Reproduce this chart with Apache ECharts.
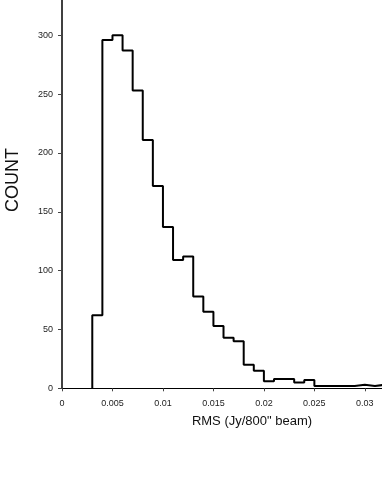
<!DOCTYPE html>
<html>
<head>
<meta charset="utf-8">
<script src="https://cdn.jsdelivr.net/npm/echarts@6/dist/echarts.min.js"></script>
<style>
  html, body { margin: 0; padding: 0; background: #fff; }
  #chart { width: 382px; height: 494px; }
</style>
</head>
<body>
<div id="chart"></div>
<script>
// bin left edges (Jy/800" beam), bin width 0.001
var binEdges = [0.003, 0.004, 0.005, 0.006, 0.007, 0.008, 0.009, 0.010, 0.011, 0.012,
  0.013, 0.014, 0.015, 0.016, 0.017, 0.018, 0.019, 0.020, 0.021, 0.022,
  0.023, 0.024, 0.025, 0.026, 0.027, 0.028, 0.029, 0.030, 0.031, 0.032];
var counts = [62, 296, 300, 287, 253, 211, 172, 137, 109, 112,
  78, 65, 53, 43, 40, 20, 15, 6, 8, 8,
  5, 7, 2, 2, 2, 2, 3, 2, 3, 3];
var xTicks = [0, 0.005, 0.01, 0.015, 0.02, 0.025, 0.03];
var yTicks = [0, 50, 100, 150, 200, 250, 300];

var chart = echarts.init(document.getElementById('chart'), null, { renderer: 'canvas' });

// step outline of the histogram
var steps = [[binEdges[0], 0]];
for (var i = 0; i < binEdges.length; i++) {
  steps.push([binEdges[i], counts[i]]);
}
steps.push([binEdges[binEdges.length - 1] + 0.001, counts[counts.length - 1]]);

var font = 'Liberation Sans, Arial, sans-serif';

var option = {
  backgroundColor: '#FFFFFF',
  animation: false,
  grid: { left: 62, right: 0, top: 0, height: 388.3 },
  xAxis: {
    type: 'value',
    min: 0,
    max: 0.0317,
    splitLine: { show: false },
    axisLine: { onZero: false, lineStyle: { color: '#000', width: 1.2 } },
    axisTick: { length: 3, customValues: xTicks, lineStyle: { color: '#444' } },
    axisLabel: {
      customValues: xTicks,
      margin: 11,
      fontSize: 9,
      fontFamily: font,
      color: '#222',
      formatter: function (v) { return String(+v.toFixed(3)); }
    }
  },
  yAxis: {
    type: 'value',
    min: 0,
    max: 330,
    splitLine: { show: false },
    axisLine: { show: true, lineStyle: { color: '#000', width: 1.5 } },
    axisTick: { show: true, length: 4, customValues: yTicks, lineStyle: { color: '#444' } },
    axisLabel: {
      customValues: yTicks,
      margin: 9,
      fontSize: 9,
      fontFamily: font,
      color: '#222'
    }
  },
  graphic: [
    {
      type: 'text',
      x: 13.5, y: 180,
      rotation: Math.PI / 2,
      style: { text: 'COUNT', font: '18px ' + font, fill: '#111', align: 'center', verticalAlign: 'middle' }
    },
    {
      type: 'text',
      x: 252, y: 421,
      style: { text: 'RMS (Jy/800" beam)', font: '13px ' + font, fill: '#111', align: 'center', verticalAlign: 'middle' }
    }
  ],
  series: [
    {
      type: 'line',
      step: 'end',
      data: steps,
      symbol: 'none',
      clip: true,
      lineStyle: { color: '#000', width: 2 }
    }
  ]
};
chart.setOption(option);
</script>
</body>
</html>
